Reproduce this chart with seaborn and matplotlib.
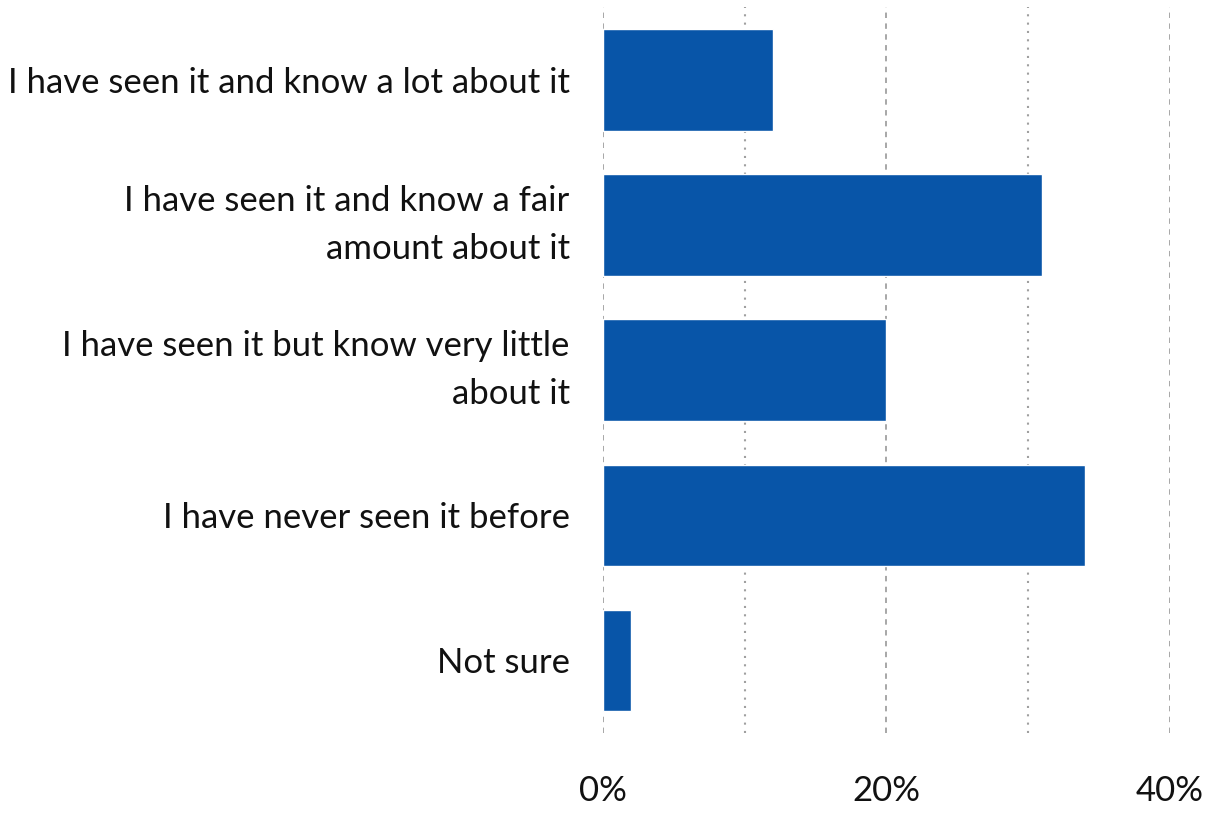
import matplotlib
matplotlib.use("Agg")
import matplotlib.pyplot as plt
import seaborn as sns
import pandas as pd
from matplotlib.ticker import MultipleLocator, FuncFormatter

categories = [
    "I have seen it and know a lot about it",
    "I have seen it and know a fair\namount about it",
    "I have seen it but know very little\nabout it",
    "I have never seen it before",
    "Not sure",
]
values = [12, 31, 20, 34, 2]

df = pd.DataFrame({"response": categories, "share": values})

sns.set_theme(style="white")
plt.rcParams["font.family"] = ["Lato", "DejaVu Sans"]

fig = plt.figure(figsize=(12.09, 8.14), dpi=100)
ax = fig.add_axes([0.4988, 0.0995, 0.4689, 0.8915])

sns.barplot(data=df, y="response", x="share", orient="h", color="#0855A8",
            saturation=1, width=0.70, ax=ax, zorder=3)

ax.set_xlim(0, 40)
ax.set_ylim(4.5, -0.5)
ax.xaxis.set_major_locator(MultipleLocator(20))
ax.xaxis.set_minor_locator(MultipleLocator(10))
ax.xaxis.set_major_formatter(FuncFormatter(lambda v, _: f"{v:.0f}%"))
ax.grid(False)
ax.grid(True, axis="x", which="major", color="#a0a0a0", linestyle=(0, (3, 3)), linewidth=1.3, zorder=0)
ax.grid(True, axis="x", which="minor", color="#a0a0a0", linestyle=(0, (1, 3)), linewidth=1.5, zorder=0)
for s in ax.spines.values():
    s.set_visible(False)
ax.set_xlabel("")
ax.set_ylabel("")
ax.tick_params(axis="x", which="both", length=0, pad=30, labelsize=25, labelcolor="#111111")
ax.tick_params(axis="y", length=0, pad=24, labelsize=25, labelcolor="#111111")
for t in ax.get_yticklabels():
    t.set_multialignment("right")
    if "\n" in t.get_text():
        t.set_linespacing(1.6)
        t.set_verticalalignment("center")

fig.savefig("out.png", dpi=100)
